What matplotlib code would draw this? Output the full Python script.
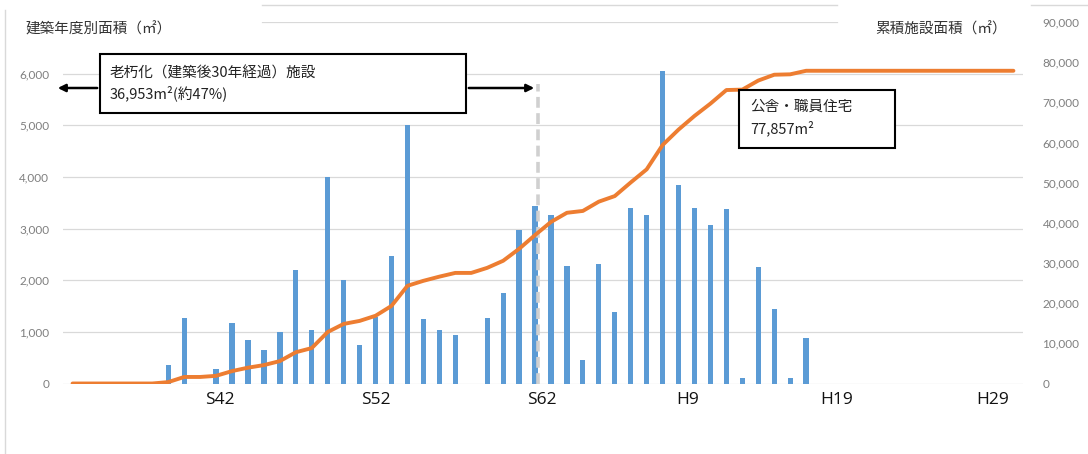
import matplotlib
matplotlib.use("Agg")
import matplotlib.pyplot as plt
from matplotlib.patches import Rectangle, FancyArrowPatch
from matplotlib.lines import Line2D
import matplotlib.transforms as mtransforms
import numpy as np

# Fiscal years S33 (1958) .. H29 (2017)
years = list(range(1958, 2018))

# Floor area built in each fiscal year (m²)
area = [
    0, 0, 0, 0, 0, 0, 350, 1278, 0, 280,
    1180, 850, 645, 1000, 2200, 1040, 4000, 2010, 750, 1280,
    2460, 5000, 1240, 1040, 930, 0, 1260, 1760, 2970, 3430,
    3270, 2280, 460, 2310, 1390, 3390, 3260, 6060, 3840, 3400,
    3070, 3380, 100, 2260, 1450, 100, 884, 0, 0, 0,
    0, 0, 0, 0, 0, 0, 0, 0, 0, 0,
]

# Era labels under the category axis and where they sit
era_labels = ["S42", "S52", "S62", "H9", "H19", "H29"]
era_label_pos = [9.25, 19.0, 29.45, 38.6, 47.9, 57.7]

left_ticks = [0, 1000, 2000, 3000, 4000, 5000, 6000]
right_ticks = [0, 10000, 20000, 30000, 40000, 50000, 60000, 70000, 80000, 90000]

aged_years = 30          # buildings 30+ years old: S62 and earlier
aged_area_label = "36,953m²(約47%)"
total_area_label = "77,857m²"

x = np.arange(len(years))
cumulative = np.cumsum(area)

BLUE = "#5B9BD5"
ORANGE = "#ED7D31"
GRID = "#d9d9d9"
TICK = "#7f7f7f"
CJK = ["Noto Sans CJK JP", "DejaVu Sans"]

W, H = 1088, 454
fig = plt.figure(figsize=(W / 100, H / 100), dpi=100)
fig.patch.set_facecolor("white")

ax_l, ax_r, ax_t, ax_b = 63, 1023, 22, 383.5
ax = fig.add_axes([ax_l / W, 1 - ax_b / H, (ax_r - ax_l) / W, (ax_b - ax_t) / H])

ax.bar(x, area, width=0.33, color=BLUE, zorder=2)
ax.set_xlim(-0.6, 59.6)
ax.set_ylim(0, 7000)
ax.set_yticks(left_ticks)
ax.set_yticklabels([f"{v:,}" for v in left_ticks], fontsize=8.5, color=TICK, family="Lato")
ax.tick_params(axis="y", length=0, pad=10)
ax.set_xticks([])
for s in ax.spines.values():
    s.set_visible(False)
for v in left_ticks:
    ax.axhline(v, color=GRID, lw=0.9, zorder=0)
# top gridline, partly covered by the title area
ax.axhline(7000, xmin=(262 - ax_l) / (ax_r - ax_l), xmax=(837 - ax_l) / (ax_r - ax_l),
           color=GRID, lw=0.9, zorder=0)

# 30-year boundary marker
boundary_x = aged_years - 1 + 0.2
ax.vlines(boundary_x, 0, 5800, colors="#d0d0d0", linestyles=(0, (3, 1.5)), lw=2.6, zorder=3)

# era labels
trans = mtransforms.blended_transform_factory(ax.transData, ax.transAxes)
for lab, pos in zip(era_labels, era_label_pos):
    ax.text(pos, -0.047, lab, transform=trans, ha="center", va="center",
            fontsize=12.5, family="Open Sans", color="#111111")

ax2 = ax.twinx()
ax2.plot(x, cumulative, color=ORANGE, lw=2.8, solid_capstyle="round",
         solid_joinstyle="round", zorder=4)
ax2.set_ylim(0, 90000)
ax2.set_yticks(right_ticks)
ax2.set_yticklabels([f"{v:,}" for v in right_ticks], fontsize=8.5, color=TICK, family="Lato")
ax2.tick_params(axis="y", length=0, pad=14)
for s in ax2.spines.values():
    s.set_visible(False)

def fx(px):
    return px / W

def fy(py):
    return 1 - py / H

# axis titles
fig.text(fx(25), fy(29), "建築年度別面積（㎡）", fontsize=10.5, family=CJK,
         color="#333333", ha="left", va="center")
fig.text(fx(1007), fy(29), "累積施設面積（㎡）", fontsize=10.5, family=CJK,
         color="#333333", ha="right", va="center")

# chart frame
fig.add_artist(Line2D([fx(5), fx(5)], [fy(10), fy(454)], color=GRID, lw=1))
fig.add_artist(Line2D([fx(262), fx(837)], [fy(5), fy(5)], color=GRID, lw=1))
fig.add_artist(Line2D([fx(1031), fx(1088)], [fy(5), fy(5)], color=GRID, lw=1))

# arrows spanning the aged-facility period
arrow_y = fy(88)
for x0, x1 in [(100, 55), (466, 537)]:
    fig.add_artist(FancyArrowPatch((fx(x0), arrow_y), (fx(x1), arrow_y),
                                   transform=fig.transFigure, arrowstyle="-|>",
                                   mutation_scale=11, lw=1.8, color="black"))

# callout boxes
def callout(x0, y0, x1, y1, lines, line_ys, tx):
    fig.add_artist(Rectangle((fx(x0), fy(y1)), fx(x1) - fx(x0), fy(y0) - fy(y1),
                             transform=fig.transFigure, facecolor="white",
                             edgecolor="black", lw=1.5, zorder=5))
    for s, yy in zip(lines, line_ys):
        fig.text(fx(tx), fy(yy), s, fontsize=10.5, family=CJK, color="#222222",
                 ha="left", va="center", zorder=6)

callout(100, 54, 466, 113, ["老朽化（建築後30年経過）施設", aged_area_label], [73, 93], 110)
callout(739, 90, 895, 148, ["公舎・職員住宅", total_area_label], [107, 128], 750)

fig.savefig("out.png", dpi=100)
